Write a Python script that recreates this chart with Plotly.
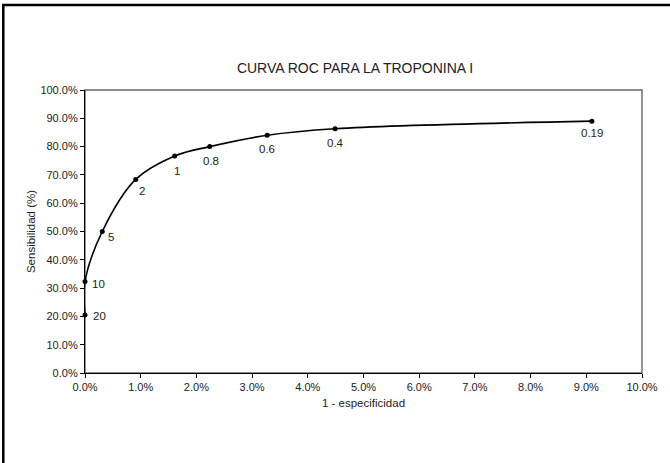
import plotly.graph_objects as go

# Data
cutoffs = ["20", "10", "5", "2", "1", "0.8", "0.6", "0.4", "0.19"]
one_minus_spec = [0.0000, 0.0000, 0.0031, 0.0091, 0.0161, 0.0224, 0.0327, 0.0449, 0.0910]
sensitivity = [0.205, 0.323, 0.500, 0.684, 0.767, 0.800, 0.840, 0.863, 0.890]

# label offsets in pixels (dx right, dy down) relative to each point
label_dx = [14, 13, 9, 6, 2, 1, 0, 0, 0]
label_dy = [1, 2, 5, 12, 15, 14, 14, 14, 12]

x_ticks = [i / 100 for i in range(0, 11)]
y_ticks = [i / 10 for i in range(0, 11)]

W, H = 670, 463
L, R, T, B = 85, 26, 90, 90
pw, ph = W - L - R, H - T - B

def px_to_paper_x(px):
    return (px - L) / pw

def px_to_paper_y(py):
    return (H - B - py) / ph

FONT = "Liberation Sans, Arial, sans-serif"
TXT = "#222"

fig = go.Figure()
fig.add_trace(go.Scatter(
    x=one_minus_spec, y=sensitivity,
    mode="lines+markers",
    line=dict(color="black", width=1.6, shape="spline", smoothing=1.0),
    marker=dict(color="black", size=5),
    cliponaxis=False, showlegend=False,
    text=cutoffs, hoverinfo="x+y+text",
))

annotations = [
    dict(x=xv, y=yv, xref="x", yref="y", text=t, showarrow=False,
         xanchor="center", yanchor="middle", xshift=dx, yshift=-dy,
         font=dict(family=FONT, size=11.5, color=TXT))
    for xv, yv, t, dx, dy in zip(one_minus_spec, sensitivity, cutoffs, label_dx, label_dy)
]

fig.update_layout(
    width=W, height=H,
    margin=dict(l=L, r=R, t=T, b=B),
    paper_bgcolor="white", plot_bgcolor="white",
    font=dict(family=FONT, size=11, color=TXT),
    title=dict(text="CURVA ROC PARA LA TROPONINA I",
               x=px_to_paper_x(356), xref="paper", xanchor="center",
               y=1 - 68 / H, yref="container", yanchor="middle",
               font=dict(family=FONT, size=14, color=TXT)),
    xaxis=dict(range=[0, 0.10], tickvals=x_ticks, tickformat=".1%",
               showgrid=False, zeroline=False, showline=True, linecolor="black",
               linewidth=1.2, ticks="outside", ticklen=4, tickcolor="black",
               tickfont=dict(size=11),
               title=dict(text="1 - especificidad", font=dict(size=11.5), standoff=6)),
    yaxis=dict(range=[0, 1.0], tickvals=y_ticks, tickformat=".1%",
               showgrid=False, zeroline=False, showline=True, linecolor="black",
               linewidth=1.2, ticks="outside", ticklen=4, tickcolor="black",
               tickfont=dict(size=11),
               title=dict(text="Sensibilidad (%)", font=dict(size=11.5), standoff=2)),
    annotations=annotations,
    shapes=[
        dict(type="rect", xref="paper", yref="paper", x0=0, x1=1, y0=0, y1=1,
             line=dict(color="#666", width=1.4), layer="below"),
        dict(type="rect", xref="paper", yref="paper",
             x0=px_to_paper_x(3), x1=px_to_paper_x(690),
             y0=px_to_paper_y(485), y1=px_to_paper_y(5),
             line=dict(color="black", width=2.5), layer="below"),
    ],
)

fig.write_html("out.html", config={"displayModeBar": False},
               post_script="document.body.style.margin='0px';")
